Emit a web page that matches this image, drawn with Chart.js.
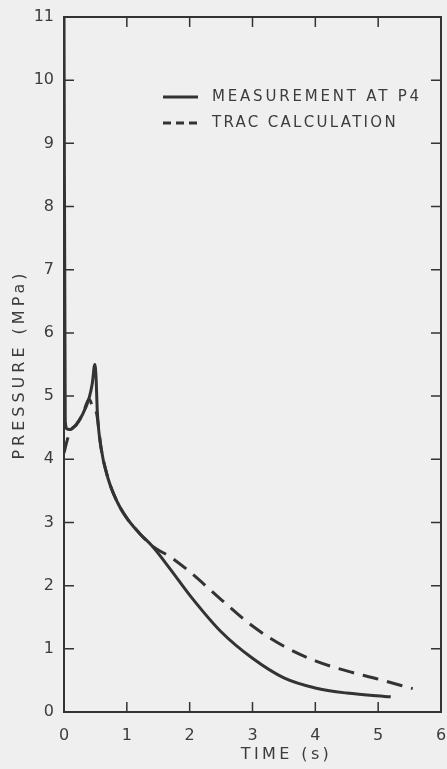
<!DOCTYPE html>
<html><head><meta charset="utf-8">
<script src="https://cdn.jsdelivr.net/npm/chart.js@4"></script>
<style>html,body{margin:0;padding:0;background:#efefef;}#wrap{width:447px;height:769px;}</style>
</head><body><div id="wrap"><canvas id="c" width="447" height="769"></canvas></div>
<script>
const xTicks = [0, 1, 2, 3, 4, 5, 6];
const yTicks = [0, 1, 2, 3, 4, 5, 6, 7, 8, 9, 10, 11];
const seriesLabels = ['MEASUREMENT AT P4', 'TRAC CALCULATION'];
const xTitle = 'TIME (s)';
const yTitle = 'PRESSURE (MPa)';

const measTime     = [0, 0.02, 0.05, 0.1, 0.2, 0.3, 0.4, 0.45, 0.49, 0.51, 0.53, 0.59, 0.7, 0.85, 1.0, 1.2, 1.4, 1.7, 2.0, 2.5, 3.0, 3.5, 4.0, 4.5, 5.2];
const measPressure = [11, 4.6, 4.48, 4.47, 4.56, 4.72, 4.97, 5.2, 5.5, 5.3, 4.76, 4.18, 3.7, 3.32, 3.07, 2.83, 2.63, 2.25, 1.85, 1.27, 0.85, 0.54, 0.38, 0.3, 0.24];

const calcTime     = [0, 0.05, 0.1, 0.2, 0.3, 0.4, 0.45, 0.52, 0.59, 0.7, 0.85, 1.0, 1.2, 1.4, 1.7, 2.0, 2.5, 3.0, 3.5, 4.0, 4.5, 5.0, 5.55];
const calcPressure = [4.1, 4.3, 4.45, 4.55, 4.72, 4.95, 4.85, 4.72, 4.18, 3.7, 3.32, 3.07, 2.83, 2.63, 2.45, 2.22, 1.78, 1.36, 1.04, 0.81, 0.65, 0.52, 0.37];

const ink = '#333333';
const textInk = '#3c3c3c';
const FONT = '"DejaVu Sans", sans-serif';

const toPts = (xs, ys) => xs.map((x, i) => ({ x: x, y: ys[i] }));

const decor = {
  id: 'decor',
  beforeDraw(chart) {
    const ctx = chart.ctx;
    ctx.save();
    ctx.fillStyle = '#efefef';
    ctx.fillRect(0, 0, chart.width, chart.height);
    ctx.restore();
  },
  afterDraw(chart) {
    const ctx = chart.ctx;
    const a = chart.chartArea;
    const xs = chart.scales.x, ys = chart.scales.y;
    ctx.save();
    ctx.strokeStyle = ink;
    ctx.lineWidth = 2;
    ctx.strokeRect(a.left, a.top, a.right - a.left, a.bottom - a.top);
    ctx.lineWidth = 1.5;
    const L = 10;
    xs.ticks.forEach(t => {
      if (t.value <= xs.min || t.value >= xs.max) return;
      const p = xs.getPixelForValue(t.value);
      ctx.beginPath();
      ctx.moveTo(p, a.bottom); ctx.lineTo(p, a.bottom - L);
      ctx.moveTo(p, a.top); ctx.lineTo(p, a.top + L);
      ctx.stroke();
    });
    ys.ticks.forEach(t => {
      if (t.value <= ys.min || t.value >= ys.max) return;
      const p = ys.getPixelForValue(t.value);
      ctx.beginPath();
      ctx.moveTo(a.left, p); ctx.lineTo(a.left + L, p);
      ctx.moveTo(a.right, p); ctx.lineTo(a.right - L, p);
      ctx.stroke();
    });

    // axis titles
    ctx.fillStyle = textInk;
    ctx.font = '16px ' + FONT;
    ctx.textBaseline = 'middle';
    ctx.textAlign = 'center';
    ctx.letterSpacing = '3.4px';
    ctx.fillText(xTitle, a.left + (a.right - a.left) / 2 + 34, 755);
    ctx.save();
    ctx.translate(20, (a.top + a.bottom) / 2);
    ctx.rotate(-Math.PI / 2);
    ctx.letterSpacing = '4px';
    ctx.fillText(yTitle, 0, 0);
    ctx.restore();

    // legend
    const lx = a.left + 99, ly = a.top + 80, gap = 26;
    ctx.font = '15px ' + FONT;
    ctx.textAlign = 'left';
    chart.data.datasets.forEach((ds, i) => {
      const y = ly + i * gap;
      ctx.strokeStyle = ds.borderColor;
      ctx.lineWidth = ds.borderWidth;
      ctx.setLineDash(ds.borderDash ? [8, 5] : []);
      ctx.beginPath();
      ctx.moveTo(lx, y); ctx.lineTo(lx + 35, y);
      ctx.stroke();
      ctx.setLineDash([]);
      ctx.fillStyle = textInk;
      ctx.letterSpacing = i === 0 ? '2.8px' : '2.3px';
      ctx.fillText(ds.label, lx + 49, y);
    });
    ctx.restore();
  }
};

new Chart(document.getElementById('c'), {
  type: 'line',
  data: {
    datasets: [
      {
        label: seriesLabels[0],
        data: toPts(measTime, measPressure),
        borderColor: ink,
        borderWidth: 3,
        pointRadius: 0,
        cubicInterpolationMode: 'monotone',
        fill: false
      },
      {
        label: seriesLabels[1],
        data: toPts(calcTime, calcPressure),
        borderColor: ink,
        borderWidth: 3,
        borderDash: [16, 9],
        pointRadius: 0,
        cubicInterpolationMode: 'monotone',
        fill: false
      }
    ]
  },
  options: {
    responsive: false,
    devicePixelRatio: 1,
    animation: false,
    layout: { padding: { top: 17, right: 6, left: 0, bottom: 0 } },
    plugins: { legend: { display: false }, tooltip: { enabled: false } },
    scales: {
      x: {
        type: 'linear', min: 0, max: 6,
        afterBuildTicks: s => { s.ticks = xTicks.map(v => ({ value: v })); },
        afterFit: s => { s.height = 57; s.paddingRight = 0; s.paddingLeft = 0; },
        grid: { display: false, drawTicks: false },
        border: { display: false },
        ticks: { color: textInk, font: { family: FONT, size: 16 }, padding: 14, maxRotation: 0 }
      },
      y: {
        type: 'linear', min: 0, max: 11,
        afterBuildTicks: s => { s.ticks = yTicks.map(v => ({ value: v })); },
        afterFit: s => { s.width = 64; s.paddingTop = 0; s.paddingBottom = 0; },
        grid: { display: false, drawTicks: false },
        border: { display: false },
        ticks: { color: textInk, font: { family: FONT, size: 16 }, padding: 10 }
      }
    }
  },
  plugins: [decor]
});
</script>
</body></html>
